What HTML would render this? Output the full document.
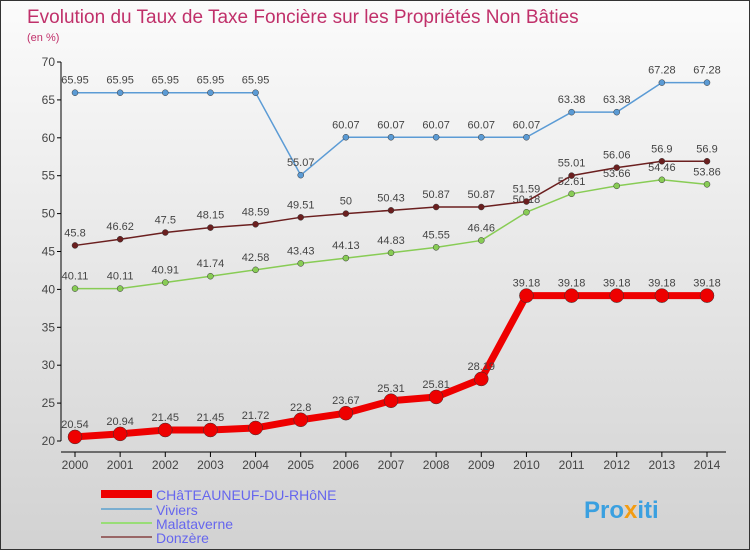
<!DOCTYPE html>
<html><head><meta charset="utf-8"><style>
body{margin:0;width:750px;height:550px;overflow:hidden;font-family:"Liberation Sans",sans-serif}
#c{position:absolute;left:0;top:0;width:748px;height:548px;border:1px solid #333;background:linear-gradient(#fbfbfb,#d2d2d2)}
</style></head><body>
<div id="c">
<svg id="s" width="748" height="548" xmlns="http://www.w3.org/2000/svg">
<text x="26" y="22" font-size="19" fill="#c0306a">Evolution du Taux de Taxe Foncière sur les Propriétés Non Bâties</text>
<text x="26" y="40" font-size="11" fill="#c0306a">(en %)</text>
<g id="axes"></g><g id="series"></g>
<g>
<line x1="100" y1="493" x2="151" y2="493" stroke="#e00" stroke-width="8"/>
<text x="155" y="499" font-size="14" fill="#6666ee">CHâTEAUNEUF-DU-RHôNE</text>
<line x1="100" y1="508" x2="151" y2="508" stroke="#7aaed0" stroke-width="2"/>
<text x="155" y="514" font-size="14" fill="#6666ee">Viviers</text>
<line x1="100" y1="522" x2="151" y2="522" stroke="#99dd77" stroke-width="2"/>
<text x="155" y="528" font-size="14" fill="#6666ee">Malataverne</text>
<line x1="100" y1="536" x2="151" y2="536" stroke="#996666" stroke-width="2"/>
<text x="155" y="542" font-size="14" fill="#6666ee">Donzère</text>
</g>
<text x="583" y="517" font-size="24" font-weight="bold" fill="#3aa0e0">Pro<tspan fill="#f39c12">x</tspan>iti</text>
</svg></div>
<script>
const years=[2000,2001,2002,2003,2004,2005,2006,2007,2008,2009,2010,2011,2012,2013,2014];
const chateauneuf=[20.54,20.94,21.45,21.45,21.72,22.8,23.67,25.31,25.81,28.19,39.18,39.18,39.18,39.18,39.18];
const viviers=[65.95,65.95,65.95,65.95,65.95,55.07,60.07,60.07,60.07,60.07,60.07,63.38,63.38,67.28,67.28];
const malataverne=[40.11,40.11,40.91,41.74,42.58,43.43,44.13,44.83,45.55,46.46,50.18,52.61,53.66,54.46,53.86];
const donzere=[45.8,46.62,47.5,48.15,48.59,49.51,50,50.43,50.87,50.87,51.59,55.01,56.06,56.9,56.9];
const yTicks=[20,25,30,35,40,45,50,55,60,65,70];
const NS="http://www.w3.org/2000/svg";
const X=i=>74+i*(632/14), Y=v=>440-(v-20)*(379/50);
function mk(t,a,p){const e=document.createElementNS(NS,t);for(const k in a)e.setAttribute(k,a[k]);p.appendChild(e);return e;}
const ax=document.getElementById('axes');
let l=mk('line',{x1:60,y1:61,x2:60,y2:440,stroke:'#000'},ax);


l=mk('line',{x1:60,y1:451,x2:725,y2:451,stroke:'#000'},ax);


yTicks.forEach(v=>{mk('line',{x1:56,y1:Y(v),x2:60,y2:Y(v),stroke:'#000'},ax);
 const t=mk('text',{x:54,y:Y(v)+4,'font-size':12,'text-anchor':'end',fill:'#444'},ax);t.textContent=v;
 
 });
years.forEach((y,i)=>{mk('line',{x1:X(i),y1:451,x2:X(i),y2:456,stroke:'#000'},ax);
 const t=mk('text',{x:X(i),y:468,'font-size':12,'text-anchor':'middle',fill:'#444'},ax);t.textContent=y;
 
 });
const sg=document.getElementById('series');
function draw(name,data,color,w,r,dec){
 const g=mk('g',{},sg);
 
 
 mk('polyline',{points:data.map((v,i)=>X(i)+','+Y(v)).join(' '),fill:'none',stroke:color,'stroke-width':w,'stroke-linejoin':'round'},g);
 data.forEach((v,i)=>{const c=mk('circle',{cx:X(i),cy:Y(v),r:r,fill:color,stroke:'#333','stroke-width':0.5},g);
  
  
  const t=mk('text',{x:X(i),y:Y(v)-9,'font-size':11,'text-anchor':'middle',fill:'#444'},g);t.textContent=v;
  
  });
}
draw('viviers',viviers,'#5b9bd5',1.5,3,2);
draw('malataverne',malataverne,'#88cc55',1.5,3,2);
draw('donzere',donzere,'#6b1f1f',1.5,3,2);
draw('chateauneuf',chateauneuf,'#ee0000',7,7,2);
</script>
</body></html>
